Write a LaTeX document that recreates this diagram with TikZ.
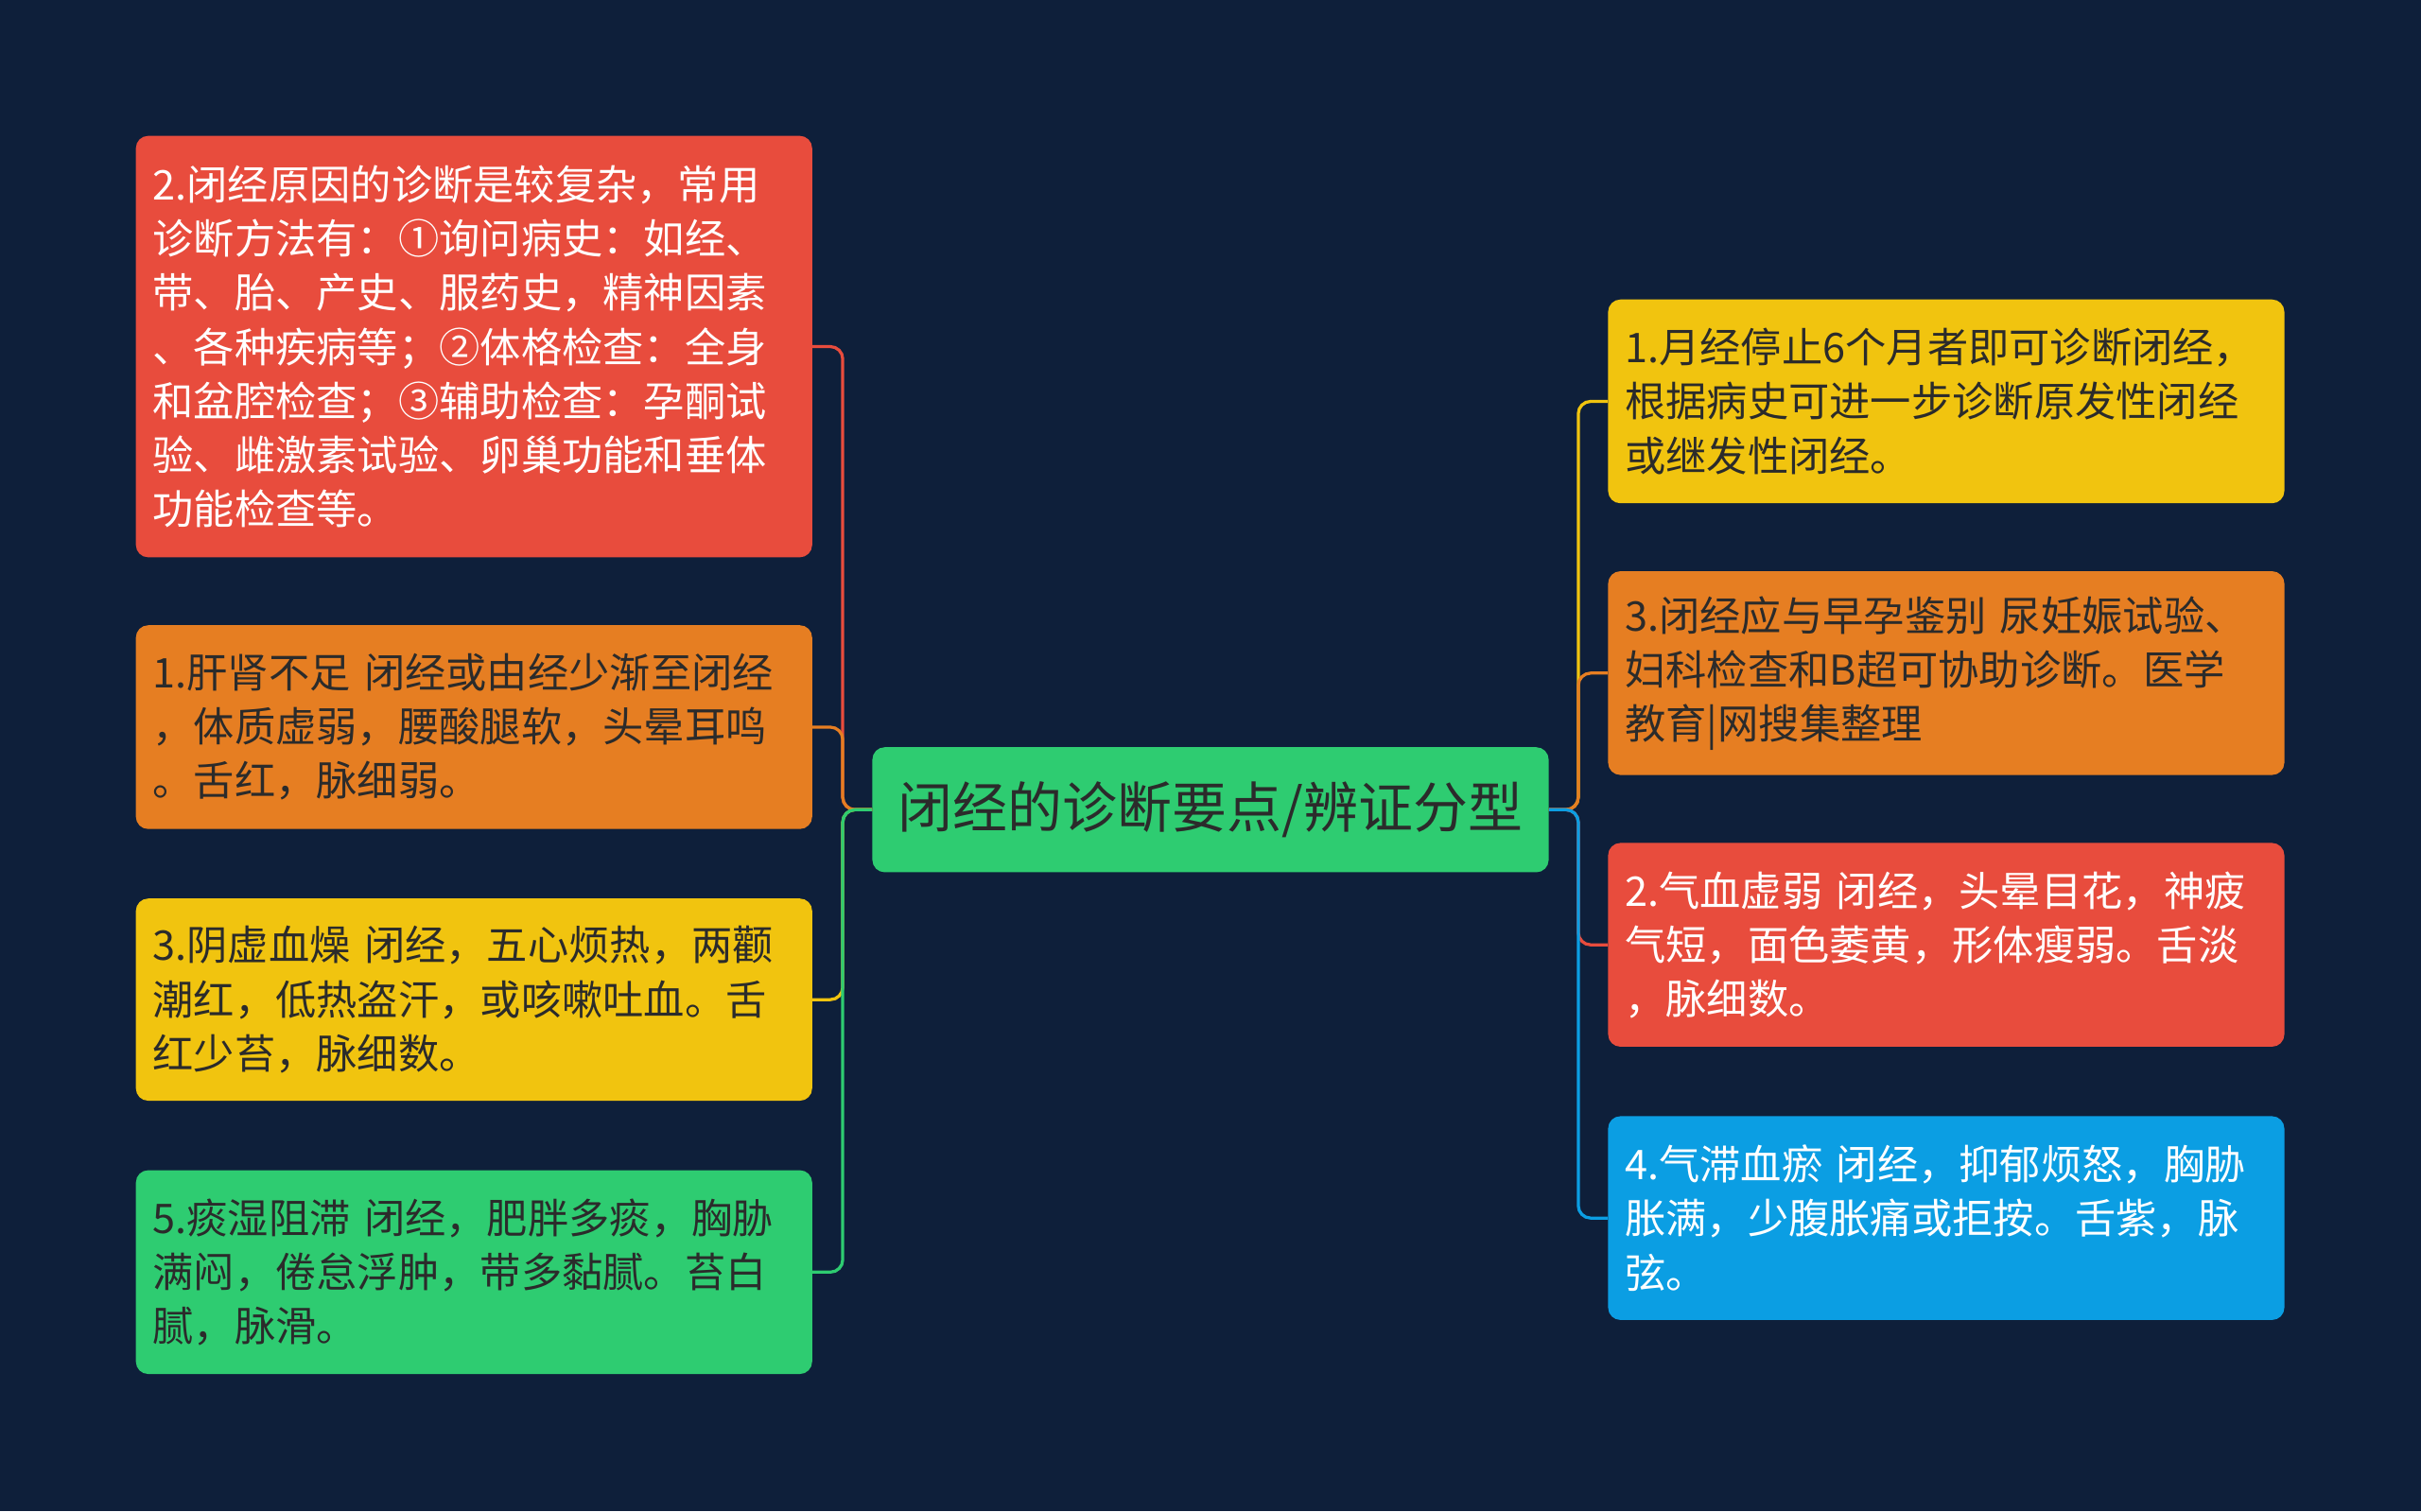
\documentclass[tikz,border=0pt]{standalone}
\usepackage{fontspec}
\setmainfont{Noto Sans CJK SC}
\definecolor{bg}{HTML}{0E1F3A}
\definecolor{cred}{HTML}{E84C3D}
\definecolor{corange}{HTML}{E67E22}
\definecolor{cyellow}{HTML}{F1C40F}
\definecolor{cgreen}{HTML}{2ECC71}
\definecolor{cblue}{HTML}{0B9EE3}
\definecolor{dtext}{HTML}{2B2B2B}
\begin{document}
\begin{tikzpicture}[x=1pt,y=-1pt,
  box/.style={rounded corners=8pt,minimum width=438pt,text width=416pt,align=left,inner xsep=11pt,inner ysep=0pt,font=\fontsize{26.5}{35}\selectfont},
  link/.style={line width=2pt,rounded corners=8pt}]
\fill[bg] (0,0) rectangle (1568,979);
\useasboundingbox (0,0) rectangle (1568,979);
\node[fill=cgreen,rounded corners=8pt,minimum width=438pt,minimum height=81pt,text=dtext,font=\fontsize{35.5}{38}\selectfont] (c) at (784,524.5) {闭经的诊断要点/辨证分型};
\node[box,fill=cred,text=white,minimum height=273pt] (l1) at (307,224.5) {2.闭经原因的诊断是较复杂，常用\\诊断方法有：①询问病史：如经、\\带、胎、产史、服药史，精神因素\\、各种疾病等；②体格检查：全身\\和盆腔检查；③辅助检查：孕酮试\\验、雌激素试验、卵巢功能和垂体\\功能检查等。};
\node[box,fill=corange,text=dtext,minimum height=132pt] (l2) at (307,471) {1.肝肾不足 闭经或由经少渐至闭经\\，体质虚弱，腰酸腿软，头晕耳鸣\\。舌红，脉细弱。};
\node[box,fill=cyellow,text=dtext,minimum height=131pt] (l3) at (307,647.5) {3.阴虚血燥 闭经，五心烦热，两颧\\潮红，低热盗汗，或咳嗽吐血。舌\\红少苔，脉细数。};
\node[box,fill=cgreen,text=dtext,minimum height=132pt] (l4) at (307,824) {5.痰湿阻滞 闭经，肥胖多痰，胸胁\\满闷，倦怠浮肿，带多黏腻。苔白\\腻，脉滑。};
\node[box,fill=cyellow,text=dtext,minimum height=132pt] (r1) at (1260.5,260) {1.月经停止6个月者即可诊断闭经，\\根据病史可进一步诊断原发性闭经\\或继发性闭经。};
\node[box,fill=corange,text=dtext,minimum height=132pt] (r2) at (1260.5,436) {3.闭经应与早孕鉴别 尿妊娠试验、\\妇科检查和B超可协助诊断。医学\\教育|网搜集整理};
\node[box,fill=cred,text=white,minimum height=132pt] (r3) at (1260.5,612) {2.气血虚弱 闭经，头晕目花，神疲\\气短，面色萎黄，形体瘦弱。舌淡\\，脉细数。};
\node[box,fill=cblue,text=white,minimum height=132pt] (r4) at (1260.5,789) {4.气滞血瘀 闭经，抑郁烦怒，胸胁\\胀满，少腹胀痛或拒按。舌紫，脉\\弦。};
\draw[link,cred] (c.west) -- ++(-19,0) |- (l1.east);
\draw[link,corange] (c.west) -- ++(-19,0) |- (l2.east);
\draw[link,cyellow] (c.west) -- ++(-19,0) |- (l3.east);
\draw[link,cgreen] (c.west) -- ++(-19,0) |- (l4.east);
\draw[link,cyellow] (c.east) -- ++(19,0) |- (r1.west);
\draw[link,corange] (c.east) -- ++(19,0) |- (r2.west);
\draw[link,cred] (c.east) -- ++(19,0) |- (r3.west);
\draw[link,cblue] (c.east) -- ++(19,0) |- (r4.west);
\end{tikzpicture}
\end{document}
